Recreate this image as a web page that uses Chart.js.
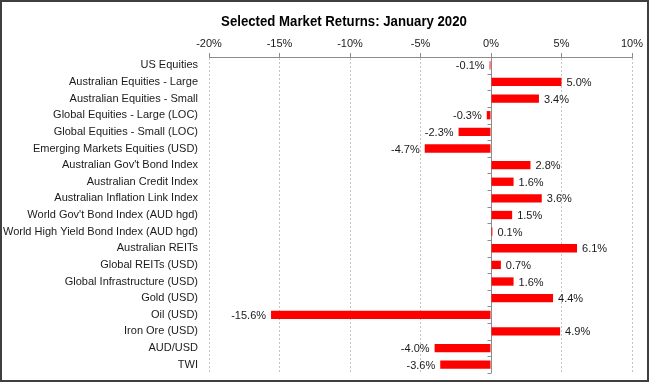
<!DOCTYPE html>
<html>
<head>
<meta charset="utf-8">
<script src="https://cdn.jsdelivr.net/npm/chart.js@4"></script>
<style>
html,body{margin:0;padding:0;background:#fff;}
#wrap{width:650px;height:383px;position:relative;}
</style>
</head>
<body>
<div id="wrap"><canvas id="c" width="650" height="383"></canvas></div>
<script>
const categories = [
  "US Equities",
  "Australian Equities - Large",
  "Australian Equities - Small",
  "Global Equities - Large (LOC)",
  "Global Equities - Small (LOC)",
  "Emerging Markets Equities (USD)",
  "Australian Gov't Bond Index",
  "Australian Credit Index",
  "Australian Inflation Link Index",
  "World Gov't Bond Index (AUD hgd)",
  "World High Yield Bond Index (AUD hgd)",
  "Australian REITs",
  "Global REITs (USD)",
  "Global Infrastructure (USD)",
  "Gold (USD)",
  "Oil (USD)",
  "Iron Ore (USD)",
  "AUD/USD",
  "TWI"
];
const returns = [-0.1, 5.0, 3.4, -0.3, -2.3, -4.7, 2.8, 1.6, 3.6, 1.5, 0.1, 6.1, 0.7, 1.6, 4.4, -15.6, 4.9, -4.0, -3.6];
const xMin = -20, xMax = 10, xStep = 5;
const titleText = "Selected Market Returns: January 2020";

const FONT = "'Liberation Sans', Arial, sans-serif";

const framePlugin = {
  id: 'frame',
  beforeDraw(chart) {
    const ctx = chart.ctx;
    ctx.save();
    ctx.fillStyle = '#fff';
    ctx.fillRect(0, 0, chart.width, chart.height);
    ctx.restore();
  },
  afterDraw(chart) {
    const ctx = chart.ctx;
    ctx.save();
    ctx.strokeStyle = '#3f3f3f';
    ctx.lineWidth = 2;
    ctx.strokeRect(1, 1, 647, 380);
    ctx.font = 'bold 15px ' + FONT;
    ctx.fillStyle = '#000';
    ctx.textBaseline = 'alphabetic';
    ctx.textAlign = 'center';
    ctx.translate(344, 25.5);
    ctx.scale(0.88, 1);
    ctx.fillText(titleText, 0, 0);
    ctx.restore();
  }
};

const zeroLinePlugin = {
  id: 'zeroLine',
  beforeDatasetsDraw(chart) {
    const ctx = chart.ctx;
    const xs = chart.scales.x;
    const x0 = Math.round(xs.getPixelForValue(0)) + 0.5;
    const top = chart.chartArea.top, bottom = chart.chartArea.bottom;
    ctx.save();
    ctx.strokeStyle = '#8c8c8c';
    ctx.lineWidth = 1;
    ctx.beginPath();
    ctx.moveTo(x0, top);
    ctx.lineTo(x0, bottom);
    const n = categories.length;
    for (let i = 0; i <= n; i++) {
      const y = Math.round(top + (bottom - top) * i / n) + 0.5;
      ctx.moveTo(x0 - 4, y);
      ctx.lineTo(x0, y);
    }
    ctx.stroke();
    ctx.restore();
  }
};

const labelPlugin = {
  id: 'valueLabels',
  afterDatasetsDraw(chart) {
    const ctx = chart.ctx;
    const meta = chart.getDatasetMeta(0);
    ctx.save();
    ctx.font = '11px ' + FONT;
    ctx.fillStyle = '#1a1a1a';
    ctx.textBaseline = 'middle';
    meta.data.forEach((bar, i) => {
      const v = returns[i];
      const txt = v.toFixed(1) + '%';
      if (v >= 0) {
        ctx.textAlign = 'left';
        ctx.fillText(txt, bar.x + 5, bar.y + 1);
      } else {
        ctx.textAlign = 'right';
        ctx.fillText(txt, bar.x - 5, bar.y + 1);
      }
    });
    ctx.restore();
  }
};

new Chart(document.getElementById('c'), {
  type: 'bar',
  data: {
    labels: categories,
    datasets: [{
      data: returns,
      backgroundColor: '#ff0000',
      borderWidth: 0,
      barPercentage: 0.5,
      categoryPercentage: 1.0
    }]
  },
  options: {
    indexAxis: 'y',
    responsive: false,
    animation: false,
    devicePixelRatio: 1,
    layout: { padding: { left: 2, right: 18, top: 33, bottom: 10 } },
    plugins: {
      legend: { display: false },
      tooltip: { enabled: false },
      title: { display: false }
    },
    scales: {
      x: {
        position: 'top',
        min: xMin,
        max: xMax,
        afterFit(scale) { scale.height = 24; },
        afterBuildTicks(scale) {
          const t = [];
          for (let v = xMin; v <= xMax; v += xStep) t.push({ value: v });
          scale.ticks = t;
        },
        ticks: {
          stepSize: xStep,
          padding: 2,
          color: '#1a1a1a',
          font: { family: FONT, size: 11 },
          callback: v => v + '%'
        },
        grid: {
          color: ctx => (ctx.tick && ctx.tick.value === 0) ? 'rgba(0,0,0,0)' : '#c4c4c4',
          tickColor: '#8c8c8c',
          tickLength: 4,
          lineWidth: 1
        },
        border: { display: true, color: '#8c8c8c', width: 1, dash: [2, 2] }
      },
      y: {
        afterFit(scale) {
          scale.width = 207;
          scale.paddingTop = 0;
          scale.paddingBottom = 0;
        },
        ticks: {
          padding: 11,
          color: '#1a1a1a',
          font: { family: FONT, size: 11 },
          autoSkip: false
        },
        grid: { display: false, drawTicks: false },
        border: { display: false }
      }
    }
  },
  plugins: [framePlugin, zeroLinePlugin, labelPlugin]
});
</script>
</body>
</html>
